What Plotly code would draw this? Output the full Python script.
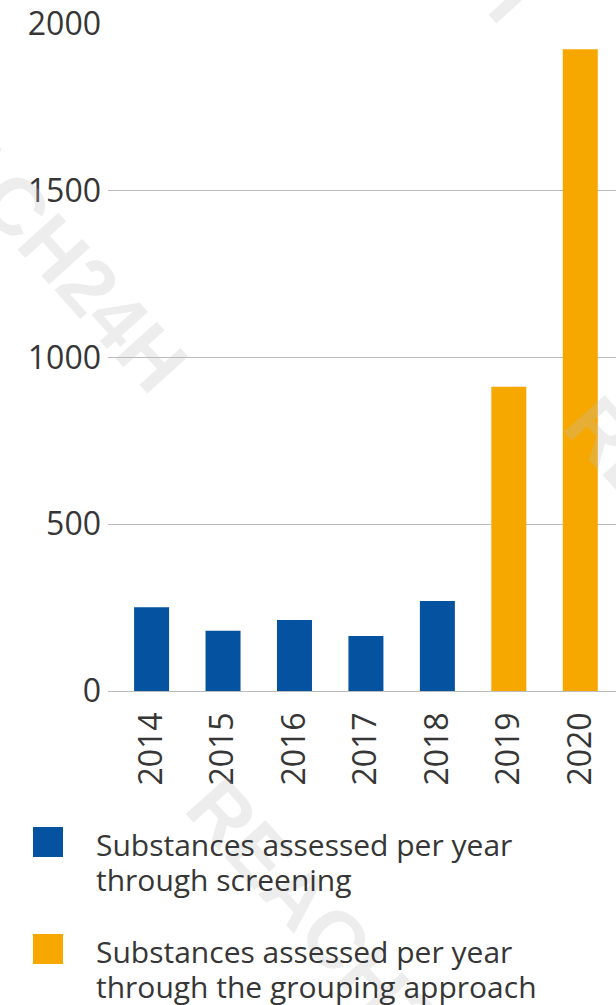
import plotly.graph_objects as go

# Data
years = ["2014", "2015", "2016", "2017", "2018", "2019", "2020"]
screening_years = ["2014", "2015", "2016", "2017", "2018"]
screening_values = [251, 181, 213, 165, 270]
grouping_years = ["2019", "2020"]
grouping_values = [912, 1924]
y_ticks = [0, 500, 1000, 1500, 2000]
legend_lines = [
    ["Substances assessed per year", "through screening"],
    ["Substances assessed per year", "through the grouping approach"],
]
watermark_text = "REACH24H"

# Styling
BLUE = "#0553a0"
ORANGE = "#f6a800"
TEXT = "#363636"
GRID = "#bcbcbc"
FONT = "Open Sans"

W, H = 616, 1005
L, R, T, B = 108, 0, 24, 314


def px_x(px):
    return (px - L) / (W - L - R)


def px_y(py):
    return (H - B - py) / (H - T - B)


fig = go.Figure()
fig.add_bar(x=screening_years, y=screening_values, name=legend_lines[0][0],
            marker=dict(color=BLUE, line=dict(width=0)), showlegend=False)
fig.add_bar(x=grouping_years, y=grouping_values, name=legend_lines[1][0],
            marker=dict(color=ORANGE, line=dict(width=0)), showlegend=False)

annotations = []
# faint diagonal watermark, drawn first so the labels sit above it
for cx, cy in [(27, 218), (347, 951), (725, 569), (376, -152)]:
    annotations.append(dict(
        x=px_x(cx), y=px_y(cy), xref="paper", yref="paper",
        text=watermark_text, showarrow=False, textangle=48,
        xanchor="center", yanchor="middle",
        font=dict(family="Liberation Sans", size=80, weight="bold",
                  color="rgba(190,190,190,0.28)"),
    ))

# legend swatches and labels
legend_rows = [(827, 844), (934, 951)]
colors = [BLUE, ORANGE]
shapes = []
for (sq_top, line_mid), col, lines in zip(legend_rows, colors, legend_lines):
    shapes.append(dict(type="rect", xref="paper", yref="paper",
                       x0=px_x(33), x1=px_x(63), y0=px_y(sq_top), y1=px_y(sq_top + 30),
                       fillcolor=col, line=dict(width=0)))
    for i, line in enumerate(lines):
        annotations.append(dict(
            x=px_x(94), y=px_y(line_mid + 35 * i), xref="paper", yref="paper",
            text=line, showarrow=False, xanchor="left", yanchor="middle",
            font=dict(family=FONT, size=30, color=TEXT),
        ))

fig.update_layout(
    width=W, height=H,
    margin=dict(l=L, r=R, t=T, b=B, pad=0),
    paper_bgcolor="white", plot_bgcolor="white",
    barmode="overlay", bargap=0.51,
    showlegend=False,
    shapes=shapes,
    annotations=annotations,
    xaxis=dict(
        type="category", categoryorder="array", categoryarray=years,
        range=[-0.61, 6.5], tickangle=-90, ticks="", showgrid=False,
        showline=False, zeroline=False, ticklabelstandoff=14,
        tickfont=dict(family=FONT, size=32, color=TEXT),
    ),
    yaxis=dict(
        range=[0, 2000], tickvals=y_ticks, ticks="", showline=False,
        showgrid=True, gridcolor=GRID, gridwidth=1,
        zeroline=True, zerolinecolor=GRID, zerolinewidth=1,
        ticklabelstandoff=6,
        tickfont=dict(family=FONT, size=32, color=TEXT),
    ),
)

fig.write_html("out.html")
